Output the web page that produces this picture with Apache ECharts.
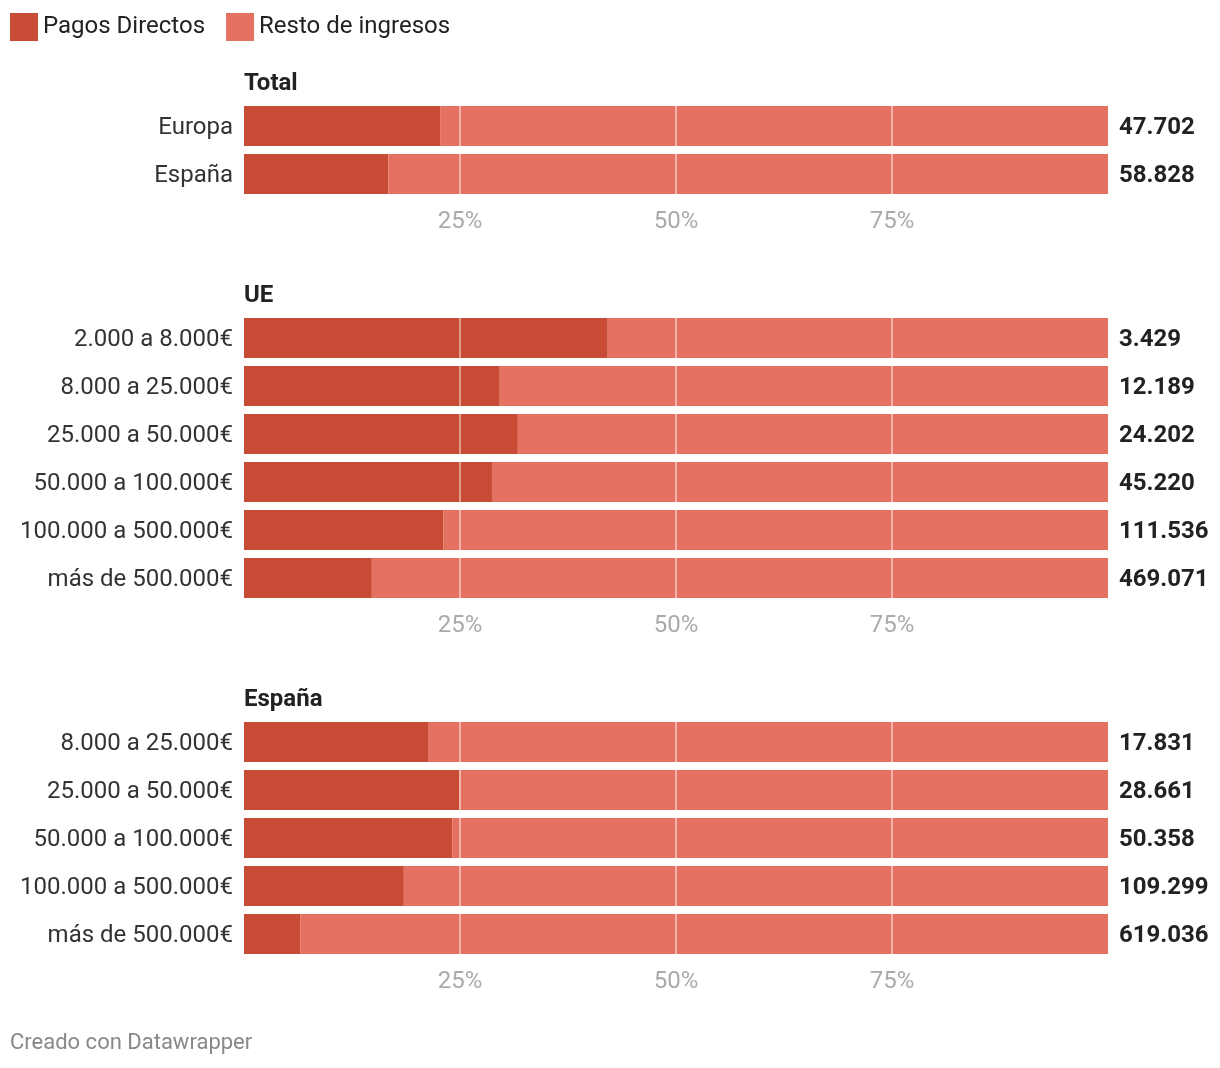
<!DOCTYPE html>
<html>
<head>
<meta charset="utf-8">
<script src="https://cdn.jsdelivr.net/npm/echarts@6/dist/echarts.min.js"></script>
<style>
html,body{margin:0;padding:0;background:#fff;}
#chart{width:1220px;height:1068px;}
</style>
</head>
<body>
<div id="chart"></div>
<script>
// ---- Data ----
const panelTitles = ['Total', 'UE', 'España'];

const totalCats = ['Europa', 'España'];
const totalPagos = [22.7, 16.7];
const totalValues = ['47.702', '58.828'];

const ueCats = ['2.000 a 8.000€', '8.000 a 25.000€', '25.000 a 50.000€', '50.000 a 100.000€', '100.000 a 500.000€', 'más de 500.000€'];
const uePagos = [42.1, 29.6, 31.7, 28.7, 23.1, 14.8];
const ueValues = ['3.429', '12.189', '24.202', '45.220', '111.536', '469.071'];

const esCats = ['8.000 a 25.000€', '25.000 a 50.000€', '50.000 a 100.000€', '100.000 a 500.000€', 'más de 500.000€'];
const esPagos = [21.3, 24.9, 24.1, 18.5, 6.5];
const esValues = ['17.831', '28.661', '50.358', '109.299', '619.036'];

const tickValues = [25, 50, 75];

// ---- Chart ----
const DARK = '#c84b35';
const LIGHT = '#e57261';
const FONT = 'Roboto, "Noto Sans", sans-serif';
const FS = 24;

const panels = [
  {cats: totalCats, pagos: totalPagos, vals: totalValues, top: 102},
  {cats: ueCats, pagos: uePagos, vals: ueValues, top: 314},
  {cats: esCats, pagos: esPagos, vals: esValues, top: 718}
];
const BAND = 48;

const grids = [], xAxes = [], yAxes = [], series = [], graphics = [];
panels.forEach((p, i) => {
  grids.push({left: 244, right: 112, top: p.top, height: p.cats.length * BAND, containLabel: false});
  xAxes.push({
    type: 'value', gridIndex: i, min: 0, max: 100, interval: 25,
    axisLine: {show: false}, axisTick: {show: false}, splitLine: {show: false},
    axisLabel: {
      margin: 12, color: '#aaaaaa', fontSize: FS, fontFamily: FONT,
      formatter: v => tickValues.indexOf(v) >= 0 ? v + '%' : ''
    }
  });
  yAxes.push({
    type: 'category', gridIndex: i, data: p.cats, inverse: true,
    axisLine: {show: false}, axisTick: {show: false}, splitLine: {show: false},
    axisLabel: {
      margin: 11, color: '#333', fontSize: FS, fontFamily: FONT,
      formatter: v => '{a|' + v + '}',
      rich: {a: {color: '#333', fontSize: FS, fontFamily: FONT, padding: [4, 0, 0, 0]}}
    }
  });
  series.push({
    name: 'Pagos Directos', type: 'bar', stack: 's' + i, xAxisIndex: i, yAxisIndex: i,
    data: p.pagos, barWidth: 40, itemStyle: {color: DARK}, silent: true
  });
  series.push({
    name: 'Resto de ingresos', type: 'bar', stack: 's' + i, xAxisIndex: i, yAxisIndex: i,
    data: p.pagos.map(v => +(100 - v).toFixed(2)), barWidth: 40, itemStyle: {color: LIGHT}, silent: true,
    label: {
      show: true, position: 'right', distance: 11, offset: [0, 2],
      formatter: d => p.vals[d.dataIndex],
      color: '#222', fontSize: FS, fontWeight: 'bold', fontFamily: FONT
    },
    markLine: {
      silent: true, symbol: 'none', label: {show: false},
      lineStyle: {color: 'rgba(255,255,255,0.45)', width: 2, type: 'solid'},
      data: tickValues.map(v => ({xAxis: v}))
    },
    z: 3
  });
  graphics.push({
    type: 'text', x: 244, y: p.top - 18,
    style: {text: panelTitles[i], font: 'bold ' + FS + 'px ' + FONT, fill: '#222', verticalAlign: 'middle'}
  });
});

graphics.push({
  type: 'text', x: 10, y: 1043,
  style: {text: 'Creado con Datawrapper', font: '22px ' + FONT, fill: '#888', verticalAlign: 'middle'}
});

const chart = echarts.init(document.getElementById('chart'));
chart.setOption({
  animation: false,
  backgroundColor: '#fff',
  textStyle: {fontFamily: FONT},
  legend: {
    left: 10, top: 13, padding: 0, itemWidth: 28, itemHeight: 28, itemGap: 21,
    icon: 'rect', selectedMode: false,
    textStyle: {fontSize: FS, color: '#222', fontFamily: FONT, padding: [2, 0, 0, 0]},
    data: ['Pagos Directos', 'Resto de ingresos']
  },
  grid: grids, xAxis: xAxes, yAxis: yAxes, series: series, graphic: graphics
});
</script>
</body>
</html>
